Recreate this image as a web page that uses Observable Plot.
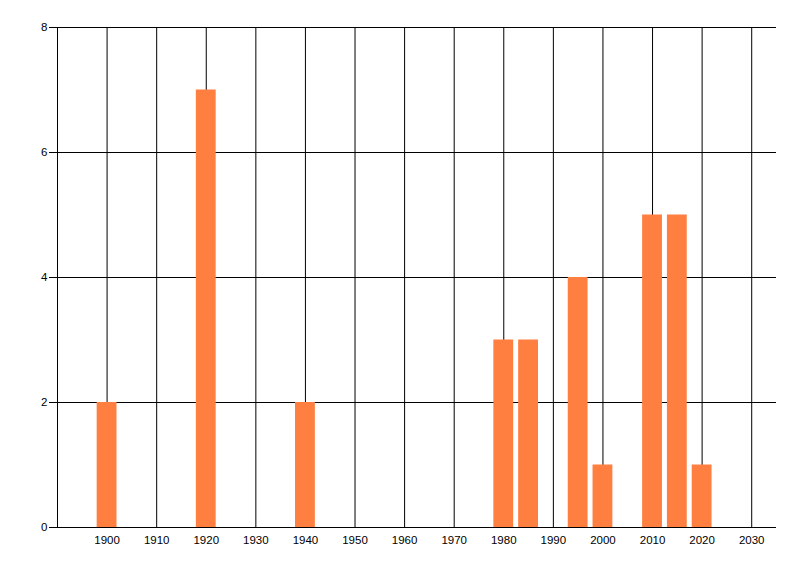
<!DOCTYPE html>
<html>
<head>
<meta charset="utf-8">
<script src="https://cdn.jsdelivr.net/npm/d3@7"></script>
<script src="https://cdn.jsdelivr.net/npm/@observablehq/plot@0.6"></script>
<style>
  html, body { margin: 0; padding: 0; background: #fff; }
  #chart svg { display: block; }
</style>
</head>
<body>
<div id="chart"></div>
<script>
const years = [1900, 1920, 1940, 1980, 1985, 1995, 2000, 2010, 2015, 2020];
const counts = [2, 7, 2, 3, 3, 4, 1, 5, 5, 1];
const xTicks = [1900, 1910, 1920, 1930, 1940, 1950, 1960, 1970, 1980, 1990, 2000, 2010, 2020, 2030];
const yTicks = [0, 2, 4, 6, 8];
const xDomain = [1890, 2035];
const yDomain = [0, 8];
const barHalfWidth = 2;

const data = years.map((year, i) => ({year, count: counts[i]}));

const chart = Plot.plot({
  width: 800,
  height: 576,
  marginLeft: 57,
  marginTop: 27,
  marginRight: 24,
  marginBottom: 49,
  style: {fontFamily: "'Liberation Sans', Arial, sans-serif", fontSize: "11.5px", color: "#000", background: "#fff"},
  x: {domain: xDomain},
  y: {domain: yDomain},
  marks: [
    Plot.ruleX(xTicks, {x: d => d, y1: yDomain[0], y2: yDomain[1], stroke: "#000", strokeWidth: 1}),
    Plot.ruleY(yTicks.filter(d => d > 0), {y: d => d, x1: xDomain[0], x2: xDomain[1], stroke: "#000", strokeWidth: 1}),
    Plot.rectY(data, {x1: d => d.year - barHalfWidth, x2: d => d.year + barHalfWidth, y1: 0, y2: "count", fill: "#FF7F41"}),
    Plot.ruleX([xDomain[0]], {y1: yDomain[0], y2: yDomain[1], stroke: "#000", strokeWidth: 1}),
    Plot.ruleY([0], {x1: xDomain[0], x2: xDomain[1], stroke: "#000", strokeWidth: 1}),
    Plot.axisX({ticks: xTicks, tickFormat: d => String(d), tickSize: 0, tickPadding: 8, label: null}),
    Plot.axisY({ticks: yTicks, tickFormat: d => String(d), tickSize: 8, tickPadding: 2, label: null, stroke: "#000"})
  ]
});
document.getElementById("chart").appendChild(chart);
</script>
</body>
</html>
